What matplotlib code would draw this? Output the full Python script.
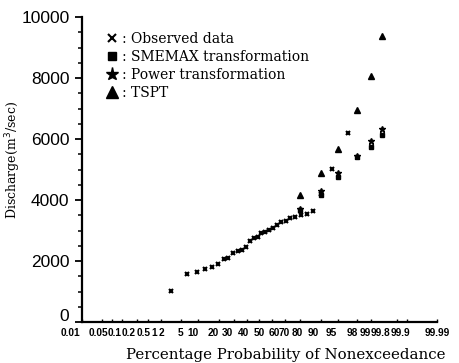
import matplotlib
matplotlib.use('Agg')
import matplotlib.pyplot as plt
import matplotlib.transforms as mtransforms
from matplotlib.ticker import MultipleLocator
from statistics import NormalDist
import numpy as np

# observed annual maxima, plotted at their nonexceedance probability (%)
obs_prob = [3.2, 6.5, 9.7, 12.9, 16.1, 19.4, 22.6, 25.8, 29.0, 32.3,
            35.5, 38.7, 41.9, 45.2, 48.4, 51.6, 54.8, 58.1, 61.3, 64.5,
            67.7, 71.0, 74.2, 77.4, 80.6, 83.9, 87.1, 90.3, 93.5, 96.8]
obs_q = [1007, 1574, 1639, 1748, 1813, 1902, 2056, 2108, 2252, 2338,
         2361, 2469, 2666, 2744, 2797, 2928, 2961, 3016, 3072, 3180,
         3269, 3321, 3400, 3452, 3508, 3531, 3639, 4200, 5007, 6207]

# quantile estimates of the three transformations
est_prob = [80, 90, 95, 98, 99, 99.5]
smemax_q = [3680, 4180, 4740, 5400, 5750, 6130]
power_q = [3710, 4310, 4900, 5440, 5950, 6330]
tspt_q = [4164, 4870, 5672, 6941, 8056, 9377]

prob_ticks = [0.01, 0.05, 0.1, 0.2, 0.5, 1, 2, 5, 10, 20, 30, 40, 50,
              60, 70, 80, 90, 95, 98, 99, 99.8, 99.9, 99.99]
prob_labels = ['0.01', '0.05', '0.1', '0.2', '0.5', '1', '2', '5', '10',
               '20', '30', '40', '50', '60', '70', '80', '90', '95', '98',
               '99', '99.8', '99.9', '99.99']

nd = NormalDist()
_ppf = np.vectorize(lambda p: nd.inv_cdf(p), otypes=[float])
_cdf = np.vectorize(lambda z: nd.cdf(z), otypes=[float])


def fwd(p):
    p = np.clip(np.asarray(p, dtype=float) / 100.0, 1e-7, 1 - 1e-7)
    return _ppf(p)


def inv(z):
    return _cdf(np.asarray(z, dtype=float)) * 100.0


fig = plt.figure(figsize=(4.59, 3.63), dpi=100)
ax = fig.add_axes([0.1786, 0.1129, 0.7734, 0.8402])
ax.set_xscale('function', functions=(fwd, inv))

ax.plot(obs_prob, obs_q, 'x', color='black', ms=3, mew=1.5,
        label=': Observed data')
ax.plot(est_prob, smemax_q, 's', color='black', ms=3,
        label=': SMEMAX transformation')
ax.plot(est_prob, power_q, '*', color='black', ms=4.5,
        label=': Power transformation')
ax.plot(est_prob, tspt_q, '^', color='black', ms=3.8,
        label=': TSPT')

ax.set_xlim(0.01, 99.99)
ax.set_ylim(0, 10000)

ax.spines['top'].set_visible(False)
ax.spines['right'].set_visible(False)
ax.spines['left'].set_linewidth(1.6)
ax.spines['bottom'].set_linewidth(1.6)

ax.set_yticks([0, 2000, 4000, 6000, 8000, 10000])
ax.yaxis.set_minor_locator(MultipleLocator(500))
ax.tick_params(axis='y', which='major', length=5, width=1.3, pad=4,
               labelsize=12.5)
ax.tick_params(axis='y', which='minor', length=3, width=1.1)
for t in ax.get_yticklabels():
    t.set_family('Liberation Sans')
# the "0" sits a little higher in the original, clear of the x labels
y0 = ax.get_yticklabels()[0]
y0.set_transform(y0.get_transform() +
                 mtransforms.ScaledTranslation(0, 5 / 72, fig.dpi_scale_trans))

ax.set_xticks(prob_ticks, prob_labels)
ax.xaxis.set_minor_locator(plt.NullLocator())
ax.tick_params(axis='x', which='major', direction='in', length=2.5,
               width=1.0, pad=4, labelsize=7.3)
# nudge the crowded probability labels apart (points)
nudges = [-8, -3, 2, 5, 5, 4, 0, 0, -4, -4, -5, -3, 0, 2, 0, -2,
          -5, -5, -4, -4, -12, -5, 0]
for t, dx in zip(ax.get_xticklabels(), nudges):
    t.set_family('Liberation Sans')
    t.set_fontweight('bold')
    t.set_transform(t.get_transform() +
                    mtransforms.ScaledTranslation(dx / 72, 0, fig.dpi_scale_trans))

ax.set_ylabel('Discharge(m$^3$/sec)', family='DejaVu Serif', fontsize=9)
ax.yaxis.set_label_coords(-0.165, 0.53)
ax.set_xlabel('Percentage Probability of Nonexceedance',
              family='DejaVu Serif', fontsize=10.8)
ax.xaxis.set_label_coords(0.575, -0.085)

leg = ax.legend(loc='upper left', bbox_to_anchor=(0.046, 0.975),
                frameon=False, markerscale=2.1, handlelength=1.0,
                handletextpad=0.2, labelspacing=0.3, borderpad=0,
                prop={'family': 'DejaVu Serif', 'size': 10})

fig.savefig('out.png', dpi=100)
